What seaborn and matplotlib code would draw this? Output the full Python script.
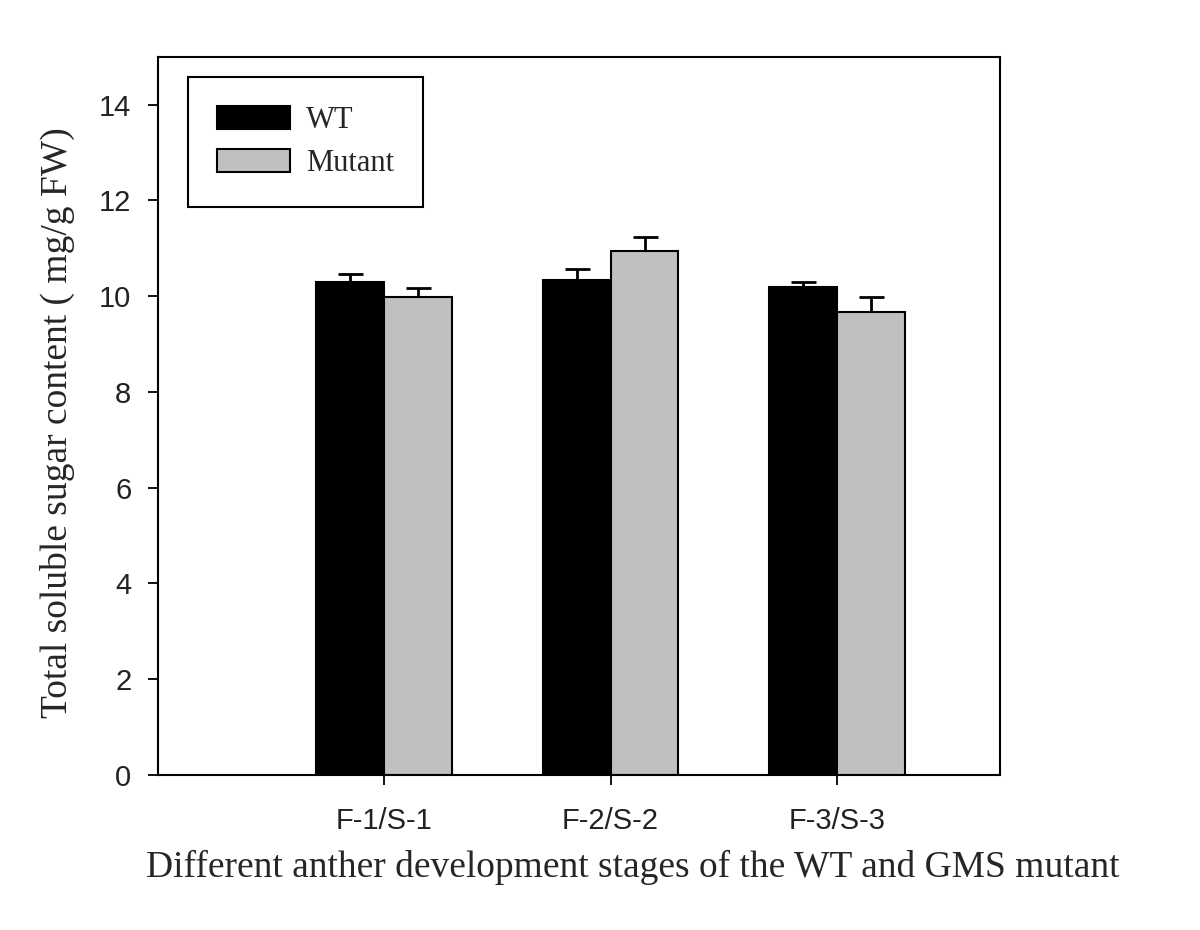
import numpy as np
import pandas as pd
import matplotlib
matplotlib.use('Agg')
import matplotlib.pyplot as plt
import seaborn as sns

# Donnees
stages = ['F-1/S-1', 'F-2/S-2', 'F-3/S-3']
groups = ['WT', 'Mutant']
wt_mean = [10.30, 10.34, 10.19]
wt_err = [0.16, 0.22, 0.11]
mut_mean = [9.98, 10.95, 9.68]
mut_err = [0.19, 0.29, 0.30]

df = pd.DataFrame({
    'stage': stages * 2,
    'group': ['WT'] * 3 + ['Mutant'] * 3,
    'value': wt_mean + mut_mean,
    'err': wt_err + mut_err,
})

sns.set_theme(style='white')
plt.rcParams['font.family'] = ['Liberation Sans', 'DejaVu Sans']

fig = plt.figure(figsize=(12, 9.3), dpi=100)
ax = fig.add_axes([0.1315, 0.1667, 0.7018, 0.7722])

sns.barplot(data=df, x='stage', y='value', hue='group', order=stages,
            hue_order=groups, palette={'WT': '#000000', 'Mutant': '#C0C0C0'},
            width=0.6, errorbar=None, edgecolor='black', linewidth=1.5,
            saturation=1, ax=ax, zorder=2)

# barres d'erreur : la moitie basse est cachee par la barre
for bars, g in zip(ax.containers, groups):
    sub = df[df['group'] == g].set_index('stage').loc[stages]
    xs = [b.get_x() + b.get_width() / 2 for b in bars]
    ax.errorbar(xs, sub['value'].values, yerr=sub['err'].values, fmt='none',
                ecolor='black', elinewidth=2, capsize=9, capthick=2, zorder=1)

ax.set_xlim(-1.0, 2.72)
ax.set_ylim(0, 15)
ax.set_yticks(np.arange(0, 15, 2))

for s in ax.spines.values():
    s.set_visible(True)
    s.set_color('black')
    s.set_linewidth(1.5)

ax.tick_params(axis='both', which='major', direction='out', length=7,
               width=1.3, color='black', labelsize=21, labelcolor='#222222',
               left=True, bottom=True)
ax.tick_params(axis='y', pad=12)
ax.tick_params(axis='x', pad=16)

serif = ['Liberation Serif', 'DejaVu Serif']
ax.set_xlabel('Different anther development stages of the WT and GMS mutant',
              fontsize=27, family=serif)
ax.set_ylabel('Total soluble sugar content ( mg/g FW)', fontsize=27,
              family=serif)
ax.xaxis.set_label_coords(0.564, -0.104)
ax.yaxis.set_label_coords(-0.098, 0.491)

leg = ax.legend(loc='upper left', bbox_to_anchor=(0.036, 0.972),
                borderaxespad=0, fancybox=False, framealpha=1,
                edgecolor='black', prop={'family': serif, 'size': 22},
                handlelength=2.4, handleheight=0.8, borderpad=0.95,
                labelspacing=0.45, handletextpad=0.5, title=None)
leg.get_frame().set_linewidth(1.5)

fig.savefig('out.png', dpi=100, facecolor='white')
